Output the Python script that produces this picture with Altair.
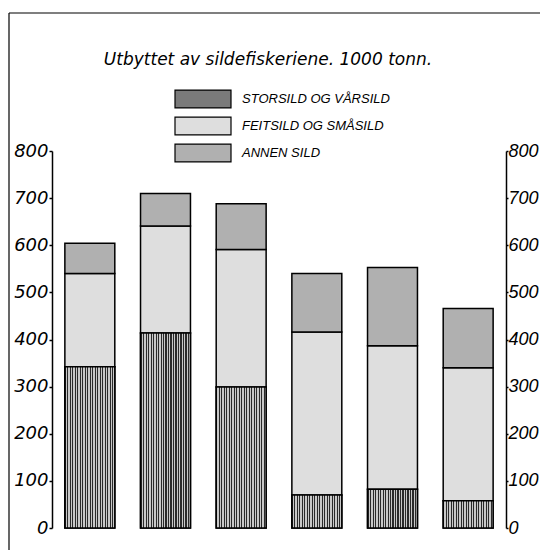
import altair as alt
import pandas as pd

years = ["1958", "1959", "1960", "1961", "1962", "1963"]
categories = ["STORSILD OG VÅRSILD", "FEITSILD OG SMÅSILD", "ANNEN SILD"]
storsild = [342, 414, 299, 70, 82, 58]
feitsild = [198, 227, 292, 346, 305, 282]
annen = [64, 69, 97, 124, 166, 126]
y_ticks = [0, 100, 200, 300, 400, 500, 600, 700, 800]
title_text = "Utbyttet av sildefiskeriene. 1000 tonn."

rows = []
for i, yr in enumerate(years):
    for j, (c, vals) in enumerate(zip(categories, [storsild, feitsild, annen])):
        rows.append({"year": yr, "cat": c, "order": j, "value": vals[i]})
df = pd.DataFrame(rows)

FONT = "Liberation Sans"
TFONT = "DejaVu Sans"

# vertical stripe texture for the first category
stops = []
n = 20
for k in range(n):
    a = k / n
    b = (k + 0.45) / n
    c2 = (k + 1) / n
    stops += [alt.GradientStop(offset=a, color="#2a2a2a"),
              alt.GradientStop(offset=b, color="#2a2a2a"),
              alt.GradientStop(offset=b, color="#c8c8c8"),
              alt.GradientStop(offset=c2, color="#c8c8c8")]
stripe = alt.Gradient(gradient="linear", stops=stops, x1=0, x2=1, y1=0, y2=0)

base = alt.Chart(df).transform_stack(
    stack="value", as_=["y0", "y1"], groupby=["year"],
    sort=[alt.SortField("order", order="ascending")]
)

xscale = alt.Scale(paddingInner=0.34, paddingOuter=0.17)
yscale = alt.Scale(domain=[0, 800], nice=False)

yaxis_common = dict(values=y_ticks, title=None, grid=False,
                    labelFontStyle="italic", labelColor="black",
                    domainColor="black", domainWidth=1.5, tickColor="black",
                    tickWidth=1.5)

bars = base.mark_bar(stroke="black", strokeWidth=1.5, opacity=1).encode(
    x=alt.X("year:N", sort=years, scale=xscale,
            axis=alt.Axis(title=None, labelAngle=0, ticks=False, labelFont=FONT,
                          labelFontSize=18, labelFontStyle="italic", labelColor="black",
                          labelPadding=4, domainColor="black", domainWidth=1.5)),
    y=alt.Y("y0:Q", scale=yscale, axis=alt.Axis(orient="left", labelFont=TFONT, labelFontSize=18,
                                                tickSize=3, labelPadding=1, **yaxis_common)),
    y2="y1:Q",
    color=alt.Color("cat:N", scale=alt.Scale(domain=categories,
                                             range=["#7a7a7a", "#dedede", "#b0b0b0"]),
                    legend=alt.Legend(orient="none", legendX=136, legendY=-67,
                                      title=None, symbolType="M-2,-0.64H2V0.64H-2Z",
                                      symbolSize=784, symbolStrokeColor="black",
                                      symbolStrokeWidth=1.2, symbolOpacity=1,
                                      labelFont=FONT, labelFontSize=13,
                                      labelFontStyle="italic", labelColor="black",
                                      labelOffset=24, rowPadding=0)),
)

stripes = base.transform_filter(alt.datum.cat == categories[0]).mark_bar(
    fill=stripe, stroke="black", strokeWidth=1.5).encode(
    x=alt.X("year:N", sort=years, scale=xscale, axis=None),
    y=alt.Y("y0:Q", scale=yscale, axis=alt.Axis(orient="right", labelFont=FONT, labelFontSize=18,
                                                tickSize=2, labelPadding=0, **yaxis_common)),
    y2="y1:Q",
)

frame = alt.Chart(pd.DataFrame({"k": [0]})).mark_rule(color="black", strokeWidth=1.2).encode(
    x=alt.value(-43), y=alt.value(-138), y2=alt.value(420))
frame_top = alt.Chart(pd.DataFrame({"k": [0]})).mark_rule(color="black", strokeWidth=1.2).encode(
    x=alt.value(-43), x2=alt.value(500), y=alt.value(-138))

chart = alt.layer(bars, stripes, frame, frame_top).resolve_axis(y="independent").properties(
    width=454, height=377,
    autosize=alt.AutoSizeParams(type="none"),
    padding={"left": 44, "top": 143, "right": 34, "bottom": 22},
    title=alt.Title(title_text, font=TFONT, fontSize=17, fontStyle="italic",
                    fontWeight="normal", color="black", anchor="middle", offset=8,
                    dy=65, dx=-11),
).configure_view(stroke=None)

chart.save("out.html", embed_options={"renderer": "svg", "actions": False})
